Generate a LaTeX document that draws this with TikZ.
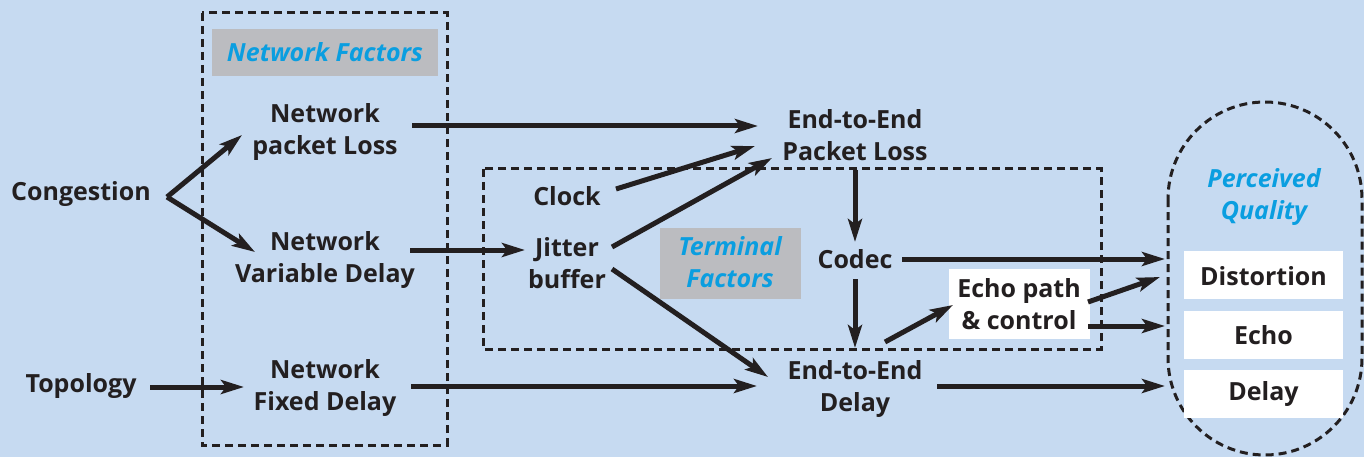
\documentclass[tikz,border=0pt]{standalone}
\usepackage{fontspec}
\setmainfont{Open Sans}
\usetikzlibrary{arrows.meta,positioning}
\definecolor{bgblue}{HTML}{C6DAF1}
\definecolor{labgray}{HTML}{BBBCC0}
\definecolor{labblue}{HTML}{0A9EE0}
\definecolor{ink}{HTML}{231F20}
\tikzset{
  txt/.style={font=\fontsize{25}{32}\selectfont\bfseries, text=ink, align=center, inner sep=0pt},
  lab/.style={font=\fontsize{25}{32}\selectfont\bfseries\itshape, text=labblue, align=center, inner sep=0pt},
  arr/.style={draw=ink, line width=5pt, -{Stealth[length=23pt,width=14pt,inset=5pt]}},
  dbox/.style={draw=ink, line width=3pt, dash pattern=on 8pt off 5pt},
  whitebox/.style={fill=white, draw=none},
}
\newcommand{\offs}[3]{([shift={(#2,#3)}]#1.center)}
\begin{document}
\begin{tikzpicture}[x=1pt,y=-1pt]
\fill[bgblue] (0,0) rectangle (1364,457);
\useasboundingbox (0,0) rectangle (1364,457);

% group boxes
\draw[dbox] (202,13) rectangle (447,445);
\fill[labgray] (212,29) rectangle (438,76);
\node[lab] (netf) at (325,52) {Network Factors};

\draw[dbox] (483,169) rectangle (1101,349);
\fill[labgray] (660,228) rectangle (801,299);
\node[lab] (termf) at (730,262) {Terminal\\Factors};

\draw[dbox] (1168,102) [rounded corners=97pt] rectangle (1362,455);
\node[lab] (pq) at (1264,197) {Perceived\\Quality};

% white boxes
\fill[whitebox] (1184,251) rectangle (1343,299);
\node[txt] (dist) at (1263.5,276) {Distortion};
\fill[whitebox] (1184,311) rectangle (1343,359);
\node[txt] (echo) at (1263.5,335) {Echo};
\fill[whitebox] (1184,370) rectangle (1343,418);
\node[txt] (delay) at (1263.5,394) {Delay};

\fill[whitebox] (949,269) rectangle (1090,339);
\node[txt] (echop) at (1019,304) {Echo path\\\& control};

% text nodes
\node[txt] (cong) at (81,194) {Congestion};
\node[txt] (topo) at (81,386) {Topology};
\node[txt] (npl) at (325,132) {Network\\packet Loss};
\node[txt] (nvd) at (325,260) {Network\\Variable Delay};
\node[txt] (nfd) at (325,388) {Network\\Fixed Delay};
\node[txt] (epl) at (855,135) {End-to-End\\Packet Loss};
\node[txt] (clock) at (567,196) {Clock};
\node[txt] (jit) at (567,263) {Jitter\\buffer};
\node[txt] (codec) at (855,259) {Codec};
\node[txt] (ed) at (855,389) {End-to-End\\Delay};

% anchor coordinates
\path ([shift={(86,3)}]cong.center) coordinate (cv);
\coordinate (pqa) at (1165,259);
\coordinate (pqb) at (1160,277);
\coordinate (pqc) at (1165,326);
\coordinate (pqd) at (1165,386);

% connectors
\draw[arr] (cv) -- \offs{npl}{-83}{3};
\draw[arr] (cv) -- \offs{nvd}{-70}{-8};
\draw[arr] \offs{topo}{69}{1} -- \offs{nfd}{-81}{-1};
\draw[arr] \offs{npl}{87}{-6} -- \offs{epl}{-97}{-9};
\draw[arr] \offs{nvd}{85}{-10} -- \offs{jit}{-42}{-13};
\draw[arr] \offs{nfd}{86}{-2} -- \offs{ed}{-98}{-3};
\draw[arr] \offs{clock}{49}{-7} -- \offs{epl}{-100}{11};
\draw[arr] \offs{jit}{45}{-16} -- \offs{epl}{-83}{23};
\draw[arr] \offs{jit}{45}{6} -- \offs{ed}{-87}{-12};
\draw[arr] \offs{epl}{0}{35} -- \offs{codec}{0}{-17};
\draw[arr] \offs{codec}{0}{20} -- \offs{ed}{0}{-41};
\draw[arr] \offs{codec}{47}{0} -- (pqa);
\draw[arr] \offs{ed}{30}{-47} -- \offs{echop}{-66}{1};
\draw[arr] \offs{echop}{69}{-2} -- (pqb);
\draw[arr] \offs{echop}{69}{22} -- (pqc);
\draw[arr] \offs{ed}{82}{-3} -- (pqd);
\end{tikzpicture}
\end{document}
